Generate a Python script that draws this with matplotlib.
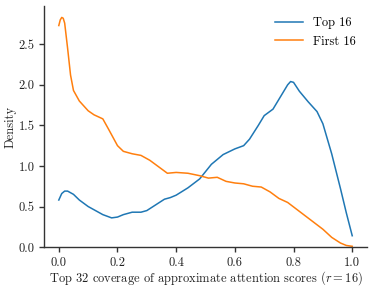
import matplotlib
matplotlib.use("Agg")
import matplotlib.pyplot as plt

plt.rcParams['font.family'] = 'serif'
plt.rcParams['font.serif'] = ['cmr10', 'DejaVu Serif']
plt.rcParams['mathtext.fontset'] = 'cm'
plt.rcParams['axes.formatter.use_mathtext'] = True

# Top 16 curve
top_x = [0.0, 0.01, 0.02, 0.03, 0.05, 0.07, 0.1, 0.13, 0.15, 0.18, 0.2, 0.22, 0.25, 0.28,
         0.3, 0.33, 0.36, 0.38, 0.4, 0.44, 0.48, 0.5, 0.52, 0.56, 0.6, 0.63, 0.65, 0.68,
         0.7, 0.73, 0.76, 0.78, 0.79, 0.8, 0.82, 0.85, 0.88, 0.9, 0.93, 0.96, 0.98, 1.0]
top_y = [0.58, 0.66, 0.69, 0.69, 0.65, 0.58, 0.50, 0.44, 0.40, 0.36, 0.37, 0.40, 0.43, 0.43,
         0.45, 0.52, 0.59, 0.61, 0.64, 0.73, 0.84, 0.93, 1.02, 1.14, 1.21, 1.25, 1.33, 1.50,
         1.62, 1.70, 1.88, 2.00, 2.04, 2.03, 1.92, 1.79, 1.67, 1.52, 1.15, 0.72, 0.42, 0.14]

# First 16 curve
first_x = [0.0, 0.005, 0.01, 0.015, 0.02, 0.03, 0.04, 0.05, 0.07, 0.1, 0.12, 0.15, 0.17,
           0.2, 0.22, 0.25, 0.28, 0.31, 0.34, 0.37, 0.4, 0.44, 0.48, 0.51, 0.54, 0.57,
           0.6, 0.63, 0.66, 0.69, 0.72, 0.75, 0.78, 0.82, 0.86, 0.9, 0.93, 0.96, 0.98, 1.0]
first_y = [2.73, 2.80, 2.83, 2.82, 2.76, 2.45, 2.12, 1.93, 1.80, 1.68, 1.63, 1.58, 1.45,
           1.25, 1.18, 1.15, 1.13, 1.07, 0.99, 0.91, 0.92, 0.91, 0.88, 0.85, 0.86, 0.81,
           0.79, 0.78, 0.75, 0.74, 0.68, 0.60, 0.55, 0.44, 0.33, 0.22, 0.12, 0.05, 0.02, 0.01]

fig = plt.figure(figsize=(3.74, 2.89), dpi=100)
ax = fig.add_axes([0.118, 0.145, 0.863, 0.834])

ax.plot(top_x, top_y, color='#1f77b4', lw=1.1, label='Top 16')
ax.plot(first_x, first_y, color='#ff7f0e', lw=1.1, label='First 16')

ax.set_xlim(-0.05, 1.05)
ax.set_ylim(0, 2.97)
ax.set_xticks([0.0, 0.2, 0.4, 0.6, 0.8, 1.0])
ax.set_yticks([0.0, 0.5, 1.0, 1.5, 2.0, 2.5])
ax.set_xticklabels(['0.0', '0.2', '0.4', '0.6', '0.8', '1.0'])
ax.set_yticklabels(['0.0', '0.5', '1.0', '1.5', '2.0', '2.5'])

for s in ['top', 'right']:
    ax.spines[s].set_visible(False)
for s in ['left', 'bottom']:
    ax.spines[s].set_color('#333333')
    ax.spines[s].set_linewidth(1.0)
ax.tick_params(direction='out', length=3.5, width=1.0, color='#333333', labelsize=9, labelcolor='#222222')

ax.set_xlabel('Top 32 coverage of approximate attention scores ($r = 16$)', fontsize=9, color='#222222', labelpad=0)
ax.set_ylabel('Density', fontsize=9, color='#222222', labelpad=1)
ax.legend(loc='upper right', frameon=False, fontsize=9, handlelength=2.2)

fig.savefig('out.png', dpi=100)
